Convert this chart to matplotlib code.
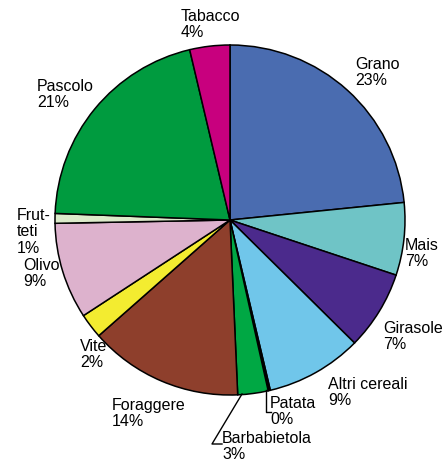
import matplotlib.pyplot as plt

plt.rcParams['font.family'] = ['Liberation Sans', 'DejaVu Sans']

# share of cultivated area, clockwise from the top
crops = ['Grano', 'Mais', 'Girasole', 'Altri cereali', 'Patata', 'Barbabietola',
         'Foraggere', 'Vite', 'Olivo', 'Frut-\nteti', 'Pascolo', 'Tabacco']
shares = [23.4, 6.7, 7.3, 8.9, 0.2, 2.8, 14.2, 2.3, 8.9, 0.9, 20.7, 3.7]
colors = ['#4a6cb0', '#6fc4c6', '#4b2a8c', '#70c6ea', '#000000', '#00a844',
          '#8e3f2c', '#f3ec30', '#ddb2cd', '#dcebca', '#009b3f', '#c8007e']

# label anchor (left, top) in pixels
label_pos = [(355, 57), (405, 238), (383, 321), (328, 377), (270, 396), (222, 431),
             (112, 398), (80, 339), (23, 258), (17, 208), (37, 79), (181, 9)]

fig = plt.figure(figsize=(4.42, 4.59), dpi=100)
ax = fig.add_axes([0, 0, 1, 1])

# y axis is flipped below, so counterclockwise in data = clockwise on screen
ax.pie(shares, colors=colors, center=(230, 220), radius=175,
       startangle=-90, counterclock=True,
       wedgeprops=dict(edgecolor='black', linewidth=1.1))

ax.set_xlim(0, 442)
ax.set_ylim(459, 0)
ax.set_aspect('equal')
ax.axis('off')

for name, val, (x, y) in zip(crops, shares, label_pos):
    ax.text(x, y, f'{name}\n{val:.0f}%', ha='left', va='top',
            fontsize=11.5, linespacing=1.12, color='black')

# leader lines for the two thin slices at the bottom
ax.plot([265.5, 265.5, 271], [390, 412, 412], color='black', lw=1)
ax.plot([242, 212, 222], [394, 444, 444], color='black', lw=1)

fig.savefig('out.png', dpi=100, facecolor='white')
